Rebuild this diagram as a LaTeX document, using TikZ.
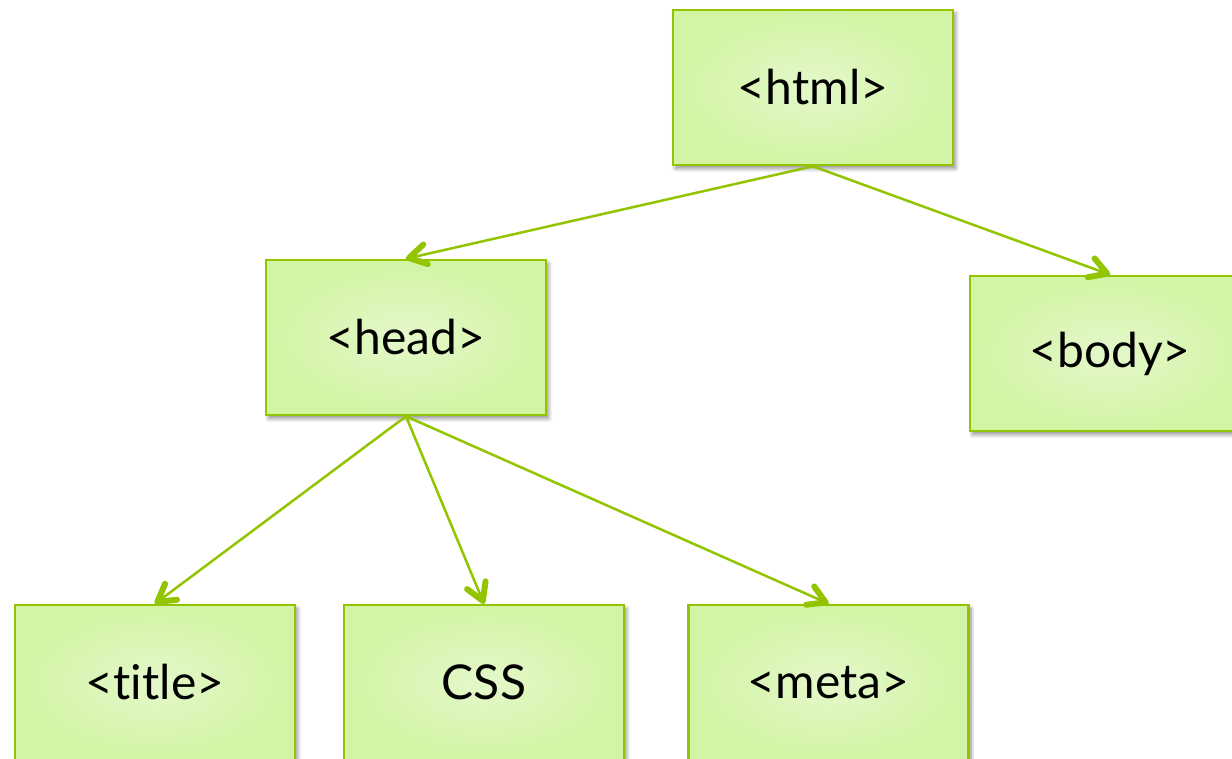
\documentclass[tikz,border=0pt]{standalone}
\usepackage{fontspec}
\setmainfont{Lato}[Ligatures={CommonOff,RareOff}]
\usetikzlibrary{decorations.markings,shadows.blur}

\definecolor{tagedge}{RGB}{146,196,0}
\definecolor{taginner}{RGB}{228,248,202}
\definecolor{tagouter}{RGB}{210,244,164}

\tikzset{
  tagbox/.style={
    rectangle, draw=tagedge, line width=2.6pt,
    minimum width=280pt, minimum height=155pt, inner sep=0pt,
    shading=radial, inner color=taginner, outer color=tagouter,
    blur shadow={shadow xshift=2.5pt, shadow yshift=-3.5pt,
                 shadow blur radius=4pt, shadow blur steps=8, shadow opacity=45},
    font=\fontsize{48}{56}\selectfont, text=black
  },
  % thin connector ending in a bold open chevron
  link/.style={
    draw=tagedge, line width=2.5pt,
    postaction={decorate, decoration={markings,
      mark=at position 1 with {
        \draw[tagedge, line width=6pt, line cap=round, line join=round]
          (-20pt,10pt) -- (-3pt,0pt) -- (-20pt,-10pt);
      }}}
  }
}

\begin{document}
\begin{tikzpicture}[x=1pt,y=-1pt]
  \useasboundingbox (0,0) rectangle (1232,758);
  \clip (0,0) rectangle (1232,758);

  % document tree
  \node[tagbox] (html)  at (813,87.5)   {<html>};
  \node[tagbox] (head)  at (406,337.5)  {<head>};
  \node[tagbox] (body)  at (1110,353.5) {<body>};
  \node[tagbox] (title) at (155,682.5)  {<title>};
  \node[tagbox] (css)   at (484,682.5)  {CSS};
  \node[tagbox] (meta)  at (828.5,682.5){<meta>};

  % parent-child links
  \draw[link] (html.south) -- (head.north);
  \draw[link] (html.south) -- (body.north);
  \draw[link] (head.south) -- (title.north);
  \draw[link] (head.south) -- (css.north);
  \draw[link] (head.south) -- (meta.north);
\end{tikzpicture}
\end{document}
